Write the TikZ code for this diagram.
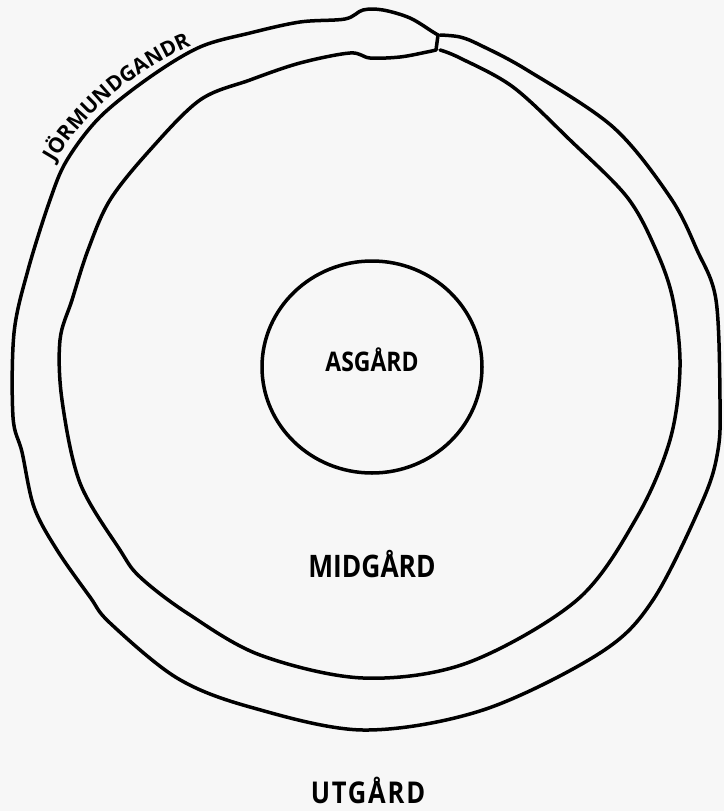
\documentclass[tikz,border=0pt]{standalone}
\usepackage{fontspec}
\setmainfont{Open Sans}
\newfontfamily\handfont[FakeStretch=0.85]{Open Sans}
\newfontfamily\handwidefont[FakeStretch=0.85, LetterSpace=6]{Open Sans}
\usetikzlibrary{decorations.text}
\begin{document}
\begin{tikzpicture}[x=1pt, y=-1pt]
  % Define styles
  \tikzstyle{serpent}=[line width=3.5pt, line join=round, line cap=round]
  \tikzstyle{world}=[line width=3.5pt]
  \tikzstyle{realm}=[inner sep=0pt, anchor=base, font=\handfont\bfseries\fontsize{27}{30}\selectfont]
  \tikzstyle{realmlarge}=[realm, font=\handfont\bfseries\fontsize{31}{34}\selectfont]

  % Page
  \useasboundingbox[fill=black!3] (0,0) rectangle (724,811);

  % Serpent body, outer edge (head at the top, tail back to the mouth)
  \draw[serpent] plot[smooth, tension=0.55] coordinates {(438,35) (433,32) (410,18) (383,10) (363,10) (345,19) (300,22) (250,33) (200,47) (150,77) (100,117) (67,160) (50,200) (28,270) (14,333) (13,417) (22,452) (34,507) (57,550) (90,597) (110,623) (177,678) (250,707) (363,730) (483,710) (600,653) (653,600) (703,500) (718,450) (720,400) (716,300) (697,250) (670,197) (613,127) (527,70) (480,45) (460,37) (440,35)};
  % Serpent body, inner edge
  \draw[serpent] plot[smooth, tension=0.55] coordinates {(436,50) (427,52) (400,57) (370,58) (350,53) (300,63) (250,80) (200,100) (150,150) (110,200) (88,250) (72,300) (60,340) (62,400) (80,483) (120,550) (140,577) (187,613) (260,655) (363,678) (467,663) (577,600) (637,517) (670,440) (680,367) (673,300) (656,250) (627,197) (570,140) (513,87) (460,58) (440,50)};
  % Snout
  \coordinate (snouttop) at (438,35);
  \coordinate (snoutbottom) at (436,50);
  \draw[serpent] (snouttop) -- (snoutbottom);

  % Serpent name
  \coordinate (namestart) at (46,180);
  \coordinate (nameend) at (210,39);
  \path[decorate, decoration={text along path, text align=center,
      text={|\bfseries\fontsize{21}{24}\selectfont|JÖRMUNDGANDR}}]
    (namestart) .. controls (72,120) and (140,62) .. (nameend);

  % Asgard
  \draw[world] (372,367) ellipse [x radius=110, y radius=106];

  % Realms
  \node[realm] (asgard) at (372,371) {ASGÅRD};
  \node[realmlarge] (midgard) at (372,577) {MIDGÅRD};
  \node[realmlarge, font=\handwidefont\bfseries\fontsize{30}{33}\selectfont] (utgard) at (368,803) {UTGÅRD};
\end{tikzpicture}
\end{document}
